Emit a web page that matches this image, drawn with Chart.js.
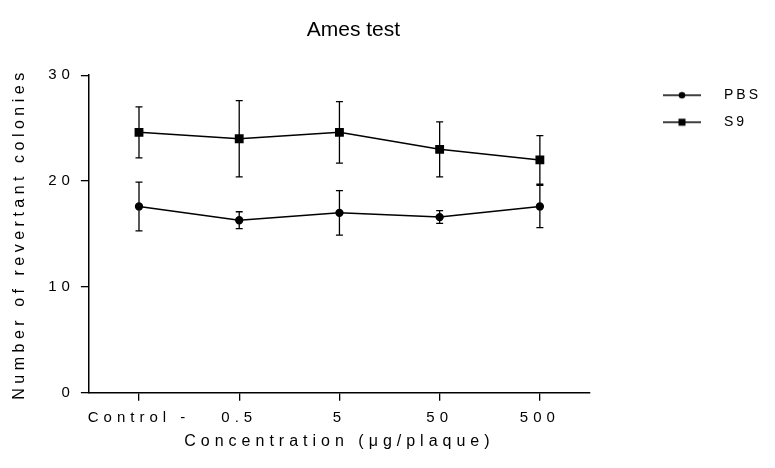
<!DOCTYPE html>
<html>
<head>
<meta charset="utf-8">
<script src="https://cdn.jsdelivr.net/npm/chart.js@4"></script>
<style>
  html, body { margin: 0; padding: 0; background: #fff; }
  #wrap { width: 775px; height: 468px; }
</style>
</head>
<body>
<div id="wrap"><canvas id="c" width="775" height="468"></canvas></div>
<script>
const categories = ['Control -', '0.5', '5', '50', '500'];
const pbsMean = [17.6, 16.3, 17.0, 16.6, 17.6];
const pbsErr  = [2.3, 0.8, 2.1, 0.6, 2.0];
const s9Mean  = [24.6, 24.0, 24.6, 23.0, 22.0];
const s9Err   = [2.4, 3.6, 2.9, 2.6, 2.3];
const yTicks  = [0, 10, 20, 30];

const FONT = "'Liberation Sans', Arial, sans-serif";
const SPACING = '5px';
const Y_TITLE_SPACING = '4.5px';
const LEGEND_SPACING = '3px';

function legendIcon(style) {
  const cv = document.createElement('canvas');
  cv.width = 54; cv.height = 12;
  const g = cv.getContext('2d');
  g.strokeStyle = '#000'; g.lineWidth = 1.5;
  g.beginPath(); g.moveTo(0, 6); g.lineTo(38, 6); g.stroke();
  g.fillStyle = '#000';
  if (style === 'circle') { g.beginPath(); g.arc(19, 6, 3.3, 0, Math.PI * 2); g.fill(); }
  else { g.fillRect(15.5, 2.5, 7, 7); }
  return cv;
}

const errorBars = {
  id: 'errorBars',
  beforeDatasetsDraw(chart) {
    const ctx = chart.ctx, y = chart.scales.y;
    chart.data.datasets.forEach((ds, di) => {
      const meta = chart.getDatasetMeta(di);
      ds.errors.forEach((e, i) => {
        const x = meta.data[i].x;
        const top = y.getPixelForValue(ds.data[i] + e);
        const bot = y.getPixelForValue(ds.data[i] - e);
        ctx.save();
        ctx.strokeStyle = '#000'; ctx.lineWidth = 1.3;
        ctx.beginPath();
        ctx.moveTo(x, top); ctx.lineTo(x, bot);
        ctx.moveTo(x - 3.5, top); ctx.lineTo(x + 3.5, top);
        ctx.moveTo(x - 3.5, bot); ctx.lineTo(x + 3.5, bot);
        ctx.stroke();
        ctx.restore();
      });
    });
  }
};

const spacingPlugin = {
  id: 'spacing',
  beforeLayout(chart) { chart.ctx.letterSpacing = SPACING; },
  afterLayout(chart) {
    const t = chart.titleBlock, a = chart.chartArea;
    if (t && a) { t.left = a.left; t.right = a.right + 28; }
  },
  beforeDraw(chart) { chart.ctx.letterSpacing = SPACING; }
};

const chart = new Chart(document.getElementById('c'), {
  type: 'line',
  data: {
    labels: categories,
    datasets: [
      { label: 'PBS', data: pbsMean, errors: pbsErr, borderColor: '#000', backgroundColor: '#000',
        borderWidth: 1.5, pointStyle: 'circle', pointRadius: 3.4, tension: 0, icon: legendIcon('circle') },
      { label: 'S9', data: s9Mean, errors: s9Err, borderColor: '#000', backgroundColor: '#000',
        borderWidth: 1.5, pointStyle: 'rect', pointRadius: 5.2, tension: 0, icon: legendIcon('rect') }
    ]
  },
  plugins: [spacingPlugin, errorBars],
  options: {
    responsive: false,
    animation: false,
    layout: { padding: { left: 4, right: 4, top: 0, bottom: 10 } },
    plugins: {
      tooltip: { enabled: false },
      title: {
        display: true, text: 'Ames test', color: '#000',
        font: { family: FONT, size: 21, weight: 'normal' },
        padding: { top: 18, bottom: 32 }
      },
      legend: {
        position: 'right', align: 'start', fullSize: false,
        labels: {
          color: '#000', font: { family: FONT, size: 14 },
          usePointStyle: true, pointStyleWidth: 54, padding: 13,
          generateLabels(ch) {
            return ch.data.datasets.map((ds, i) => ({
              text: ds.label, pointStyle: ds.icon, fillStyle: '#000', strokeStyle: '#000',
              lineWidth: 0, datasetIndex: i, hidden: false, fontColor: '#000'
            }));
          }
        }
      }
    },
    scales: {
      x: {
        type: 'category', offset: true,
        grid: { display: true, drawOnChartArea: false, drawTicks: true, tickLength: 8, color: '#000', lineWidth: 1.3, offset: false },
        border: { display: true, color: '#000', width: 1.5 },
        ticks: { color: '#000', font: { family: FONT, size: 15 }, padding: 8, maxRotation: 0, autoSkip: false },
        title: { display: true, text: 'Concentration (μg/plaque)', color: '#000', font: { family: FONT, size: 16 }, padding: { top: -3, bottom: 7 } }
      },
      y: {
        min: 0, max: 30,
        afterBuildTicks(axis) { axis.ticks = yTicks.map(v => ({ value: v })); },
        grid: { display: true, drawOnChartArea: false, drawTicks: true, tickLength: 8, color: '#000', lineWidth: 1.3 },
        border: { display: true, color: '#000', width: 1.5 },
        ticks: { color: '#000', font: { family: FONT, size: 15 }, padding: 6 },
        title: { display: true, text: 'Number of revertant colonies', color: '#000', font: { family: FONT, size: 16 }, padding: { top: 6, bottom: 13 } }
      },
      y2: {
        position: 'right', display: true,
        grid: { display: false }, border: { display: false }, ticks: { display: false },
        afterFit(s) { s.width = 60; }
      }
    }
  }
});

function withSpacing(obj, name, spacing) {
  const orig = obj[name].bind(obj);
  obj[name] = function (...args) {
    const ctx = chart.ctx; const p = ctx.letterSpacing;
    ctx.letterSpacing = spacing;
    const r = orig(...args);
    ctx.letterSpacing = p;
    return r;
  };
}
if (chart.titleBlock) withSpacing(chart.titleBlock, 'draw', '0px');
if (chart.legend) { withSpacing(chart.legend, 'fit', LEGEND_SPACING); withSpacing(chart.legend, 'draw', LEGEND_SPACING); }
if (chart.scales.y) withSpacing(chart.scales.y, 'drawTitle', Y_TITLE_SPACING);
chart.update();
</script>
</body>
</html>
